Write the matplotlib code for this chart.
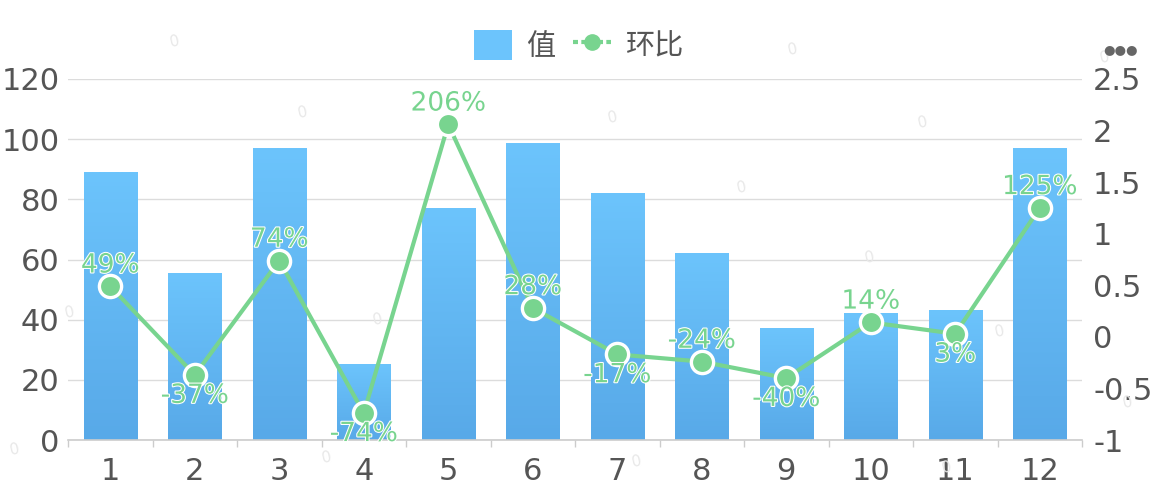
import numpy as np
import matplotlib
matplotlib.use("Agg")
import matplotlib.pyplot as plt
import matplotlib.patheffects as pe
from matplotlib.lines import Line2D
from matplotlib.patches import Rectangle
from matplotlib.colors import LinearSegmentedColormap

plt.rcParams['font.family'] = ['DejaVu Sans', 'Noto Sans CJK SC']

categories = ['1', '2', '3', '4', '5', '6', '7', '8', '9', '10', '11', '12']
values = [89, 55.5, 97, 25, 77, 98.5, 82, 62, 37, 42, 43, 97]
ratio = [0.49, -0.37, 0.74, -0.74, 2.06, 0.28, -0.17, -0.24, -0.40, 0.14, 0.03, 1.25]
ratio_labels = ['49%', '-37%', '74%', '-74%', '206%', '28%', '-17%', '-24%', '-40%', '14%', '3%', '125%']
label_above = [True, False, True, False, True, True, False, True, False, True, False, True]
left_ticks = [0, 20, 40, 60, 80, 100, 120]
right_ticks = [-1, -0.5, 0, 0.5, 1, 1.5, 2, 2.5]
right_tick_labels = ['-1', '-0.5', '0', '0.5', '1', '1.5', '2', '2.5']
series_names = ['值', '环比']

W, H = 1159, 500
fig = plt.figure(figsize=(W / 100, H / 100), dpi=100)
ax = fig.add_axes([68 / W, 1 - 440 / H, (1082 - 68) / W, (440 - 79) / H])
ax2 = ax.twinx()

text_gray = '#555555'
green = '#78d48f'
bar_top = '#6cc4fc'
bar_bot = '#58a9e8'

x = np.arange(len(categories))
bw = 0.63
bars = ax.bar(x, values, width=bw, color=bar_top, zorder=2)
cmap = LinearSegmentedColormap.from_list('g', [bar_bot, bar_top])
grad = np.linspace(0, 1, 256).reshape(-1, 1)
for b in bars:
    x0, y0 = b.get_x(), b.get_y()
    ax.imshow(grad, extent=[x0, x0 + b.get_width(), y0, y0 + b.get_height()],
              origin='lower', aspect='auto', cmap=cmap, zorder=2.1)

ax.set_xlim(-0.5, len(categories) - 0.5)
ax.set_ylim(0, 120)
ax.set_yticks(left_ticks)
ax.set_yticklabels([str(t) for t in left_ticks])
ax.grid(axis='y', color='#dcdcdc', linewidth=1.0, zorder=0)
ax.set_axisbelow(True)
ax.set_xticks(x)
ax.set_xticklabels(categories)
ax.set_xticks(np.arange(-0.5, len(categories), 1), minor=True)
ax.tick_params(axis='x', which='major', length=0, pad=12, labelsize=22, labelcolor=text_gray)
ax.tick_params(axis='x', which='minor', length=5, color='#cccccc', width=1)
ax.tick_params(axis='y', length=0, pad=6, labelsize=22, labelcolor=text_gray)
for s in ['top', 'left', 'right']:
    ax.spines[s].set_visible(False)
ax.spines['bottom'].set_color('#cccccc')
ax.spines['bottom'].set_linewidth(1.2)

ax2.set_ylim(-1, 2.5)
ax2.set_yticks(right_ticks)
ax2.set_yticklabels(right_tick_labels)
ax2.tick_params(axis='y', length=0, pad=8, labelsize=22, labelcolor=text_gray)
for s in ['top', 'left', 'right', 'bottom']:
    ax2.spines[s].set_visible(False)

ax2.plot(x, ratio, color=green, linewidth=3, marker='o', markersize=16,
         markerfacecolor=green, markeredgecolor='white', markeredgewidth=2.4,
         zorder=5, clip_on=False)
for xi, r, lab, up in zip(x, ratio, ratio_labels, label_above):
    ax2.annotate(lab, (xi, r), xytext=(0, 15 if up else -15), textcoords='offset points',
                 ha='center', va='center', fontsize=19, color=green,
                 path_effects=[pe.withStroke(linewidth=1.5, foreground='white')], zorder=6)

# legend
h1 = Rectangle((0, 0), 1, 1, facecolor=bar_top)
h2 = Line2D([0], [0], color=green, linewidth=3, linestyle=(0, (1.2, 0.8)), marker='o',
            markersize=11, markerfacecolor=green, markeredgecolor=green)
leg = fig.legend([h1, h2], series_names, loc='center', bbox_to_anchor=(579 / W, 1 - 46 / H),
                 ncol=2, frameon=False, prop={'family': ['Noto Sans CJK SC'], 'size': 21},
                 handlelength=1.3, handleheight=1.2, handletextpad=0.5, columnspacing=0.6,
                 labelcolor=text_gray)

# toolbox dots
fig.text(1120 / W, 1 - 50 / H, '●●●', fontsize=9.5, color='#666666', ha='center', va='center')

# faint watermark zeros
wm = [(175, 42), (303, 113), (613, 118), (742, 188), (793, 50), (923, 123), (1105, 58),
      (15, 450), (70, 313), (378, 320), (327, 458), (637, 462), (870, 258), (1000, 332),
      (1128, 403), (947, 468)]
for px, py in wm:
    fig.text(px / W, 1 - py / H, '0', fontsize=11, color='#e8e8e8', rotation=12,
             ha='center', va='center', zorder=0)

fig.savefig('out.png', dpi=100, facecolor='white')
